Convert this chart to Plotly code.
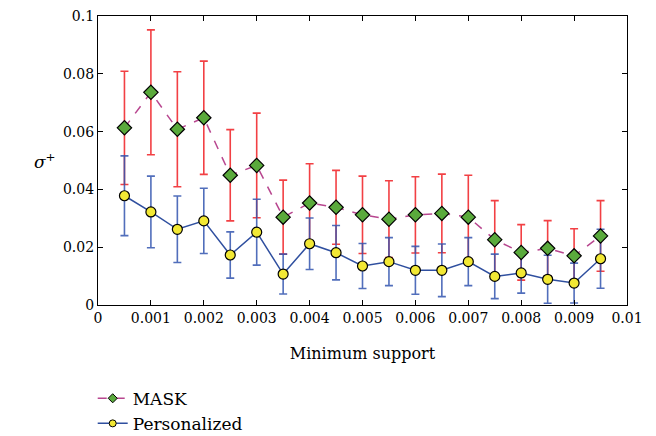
import plotly.graph_objects as go

support = [0.0005, 0.001, 0.0015, 0.002, 0.0025, 0.003, 0.0035, 0.004, 0.0045, 0.005,
           0.0055, 0.006, 0.0065, 0.007, 0.0075, 0.008, 0.0085, 0.009, 0.0095]
mask_vals = [0.0613, 0.0736, 0.0608, 0.0648, 0.0449, 0.0483, 0.0304, 0.0353, 0.0338, 0.0312,
             0.0297, 0.0312, 0.0317, 0.0304, 0.0226, 0.0182, 0.0196, 0.0170, 0.0239]
mask_err = [0.0196, 0.0216, 0.0199, 0.0196, 0.0158, 0.0181, 0.0128, 0.0136, 0.0128, 0.0134,
            0.0133, 0.0132, 0.0136, 0.0145, 0.0135, 0.0096, 0.0096, 0.0094, 0.0122]
pers_vals = [0.0378, 0.0322, 0.0262, 0.0291, 0.0173, 0.0252, 0.0107, 0.0212, 0.0181, 0.0135,
             0.0150, 0.0120, 0.0120, 0.0150, 0.0099, 0.0111, 0.0089, 0.0076, 0.0160]
pers_err = [0.0138, 0.0124, 0.0115, 0.0113, 0.0080, 0.0114, 0.0069, 0.0089, 0.0094, 0.0078,
            0.0083, 0.0083, 0.0091, 0.0083, 0.0077, 0.0070, 0.0083, 0.0069, 0.0102]

x_ticks = [0, 0.001, 0.002, 0.003, 0.004, 0.005, 0.006, 0.007, 0.008, 0.009, 0.01]
x_ticklabels = ["0", "0.001", "0.002", "0.003", "0.004", "0.005", "0.006", "0.007", "0.008", "0.009", "0.01"]
y_ticks = [0, 0.02, 0.04, 0.06, 0.08, 0.1]
y_ticklabels = ["0", "0.02", "0.04", "0.06", "0.08", "0.1"]

FONT = "DejaVu Serif"
red = "rgba(240,30,35,0.85)"
blue_err = "rgba(50,85,175,0.85)"
mask_line = dict(color="#b8468f", width=1.5, dash="dash")
pers_line = dict(color="#2f4f9f", width=1.5)

fig = go.Figure()
# error bars (drawn below markers)
fig.add_trace(go.Scatter(x=support, y=mask_vals, mode="markers", marker=dict(size=2, opacity=0),
                         error_y=dict(type="data", array=mask_err, color=red, thickness=1.6, width=4),
                         showlegend=False, hoverinfo="skip"))
fig.add_trace(go.Scatter(x=support, y=pers_vals, mode="markers", marker=dict(size=2, opacity=0),
                         error_y=dict(type="data", array=pers_err, color=blue_err, thickness=1.6, width=4),
                         showlegend=False, hoverinfo="skip"))
fig.add_trace(go.Scatter(x=support, y=mask_vals, mode="lines+markers", name="MASK",
                         line=mask_line, showlegend=False,
                         marker=dict(symbol="diamond", size=11, color="#5aaa3c",
                                     line=dict(color="black", width=1.2))))
fig.add_trace(go.Scatter(x=support, y=pers_vals, mode="lines+markers", name="Personalized",
                         line=pers_line, showlegend=False,
                         marker=dict(symbol="circle", size=10, color="#f2e834",
                                     line=dict(color="black", width=1.2))))
# legend entries with small symbols
fig.add_trace(go.Scatter(x=[None], y=[None], mode="lines+markers", name="MASK",
                         line=mask_line,
                         marker=dict(symbol="diamond", size=7, color="#5aaa3c",
                                     line=dict(color="black", width=1))))
fig.add_trace(go.Scatter(x=[None], y=[None], mode="lines+markers", name="Personalized",
                         line=pers_line,
                         marker=dict(symbol="circle", size=7, color="#f2e834",
                                     line=dict(color="black", width=1))))

axis_common = dict(showline=True, linecolor="black", linewidth=1.2, mirror="ticks",
                   ticks="inside", ticklen=5, tickcolor="black", showgrid=False, zeroline=False,
                   tickfont=dict(family=FONT, size=14, color="black"))
fig.update_xaxes(range=[0, 0.01], tickvals=x_ticks, ticktext=x_ticklabels,
                 title=dict(text="Minimum support", font=dict(family=FONT, size=16, color="black"), standoff=22),
                 **axis_common)
fig.update_yaxes(range=[0, 0.1], tickvals=y_ticks, ticktext=y_ticklabels, **axis_common)

fig.add_annotation(text="<i>σ</i><sup>+</sup>", xref="paper", yref="paper", x=-0.125, y=0.5,
                   showarrow=False, font=dict(family=FONT, size=17, color="black"))

fig.update_layout(width=656, height=436, margin=dict(l=98, r=29, t=16, b=131, autoexpand=False),
                  paper_bgcolor="white", plot_bgcolor="white",
                  legend=dict(x=-0.01, xanchor="left", y=-0.262, yanchor="top",
                              font=dict(family=FONT, size=17, color="black"),
                              itemwidth=30,
                              bgcolor="rgba(0,0,0,0)", tracegroupgap=0))
fig.write_html("out.html")
